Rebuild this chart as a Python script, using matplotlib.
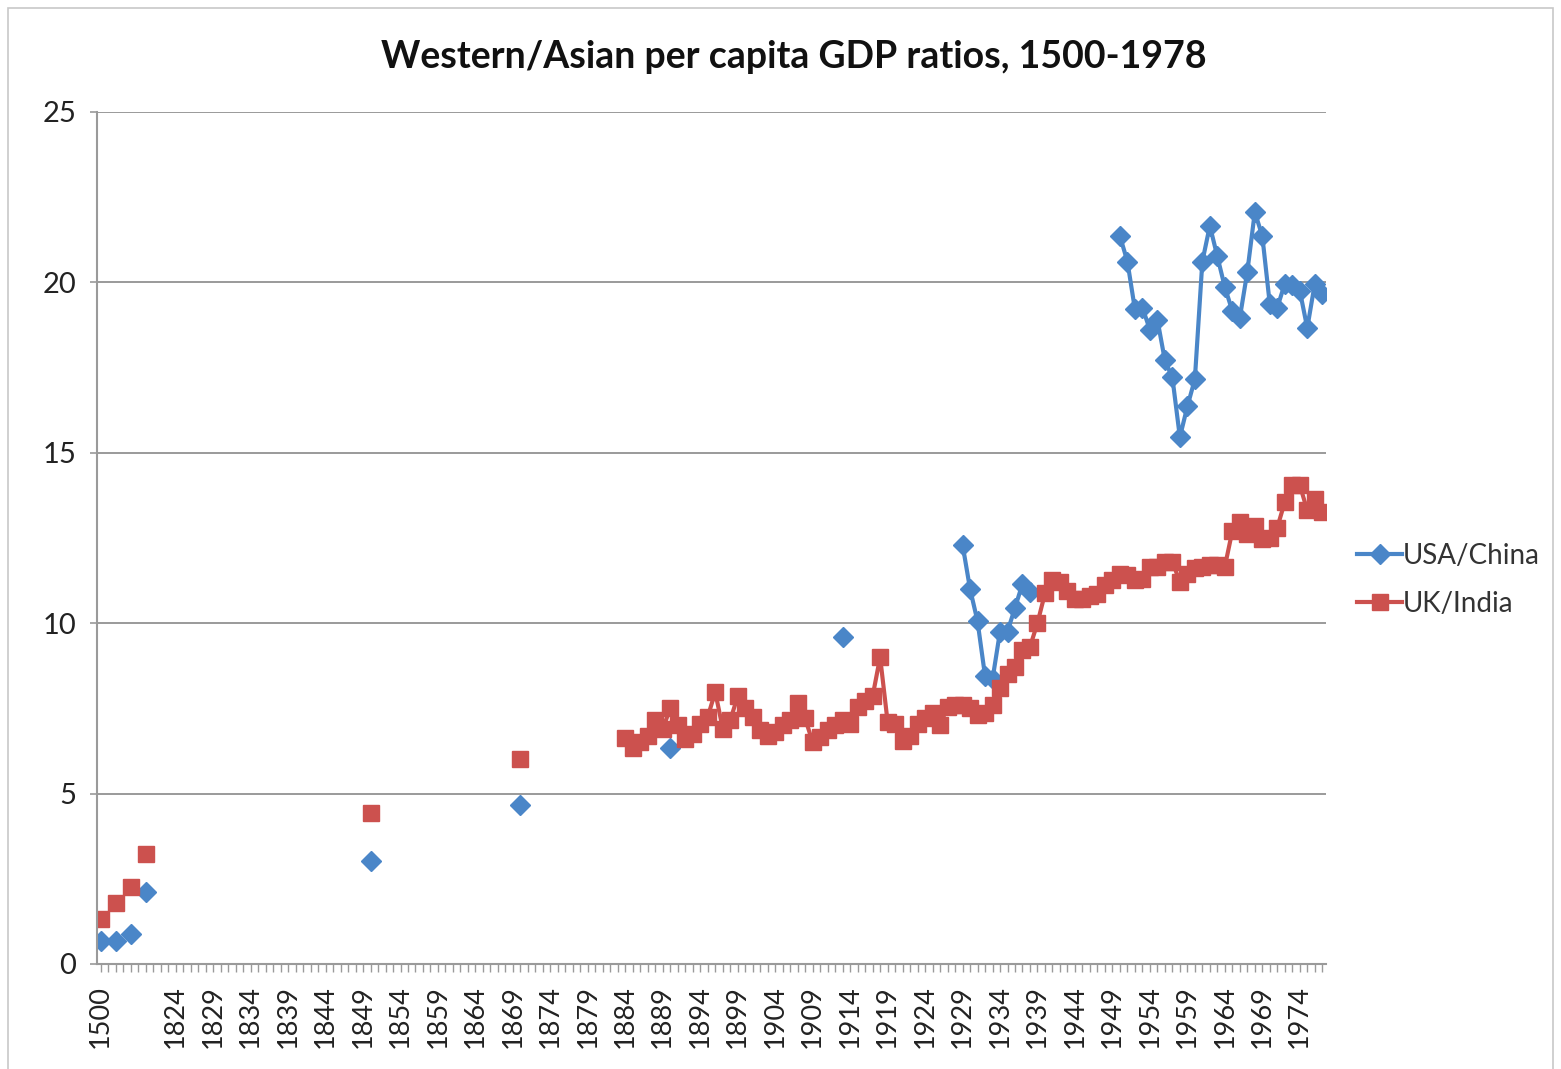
import numpy as np
import matplotlib
matplotlib.use('Agg')
from matplotlib import pyplot as plt
from matplotlib.patches import Rectangle

plt.rcParams['font.family'] = ['Lato', 'DejaVu Sans']

# category axis as in the spreadsheet (blank rows between the early benchmark years)
categories = ['1500', '', '1600', '', '1700', ''] + [str(y) for y in range(1820, 1978)]

# sparse early benchmarks
early_years = ['1500', '1600', '1700', '1820', '1850', '1870']
uk_india_early = [1.32, 1.78, 2.27, 3.22, 4.43, 6.02]
usa_china_early_years = ['1500', '1600', '1700', '1820', '1850', '1870', '1890', '1913']
usa_china_early = [0.68, 0.66, 0.88, 2.10, 3.02, 4.65, 6.33, 9.60]

# UK/India annual, 1884-1977
uk_india_annual_start = 1884
uk_india_annual = [
    6.62, 6.33, 6.50, 6.70, 7.15, 6.90, 7.50, 7.00, 6.60, 6.75,
    7.05, 7.25, 7.98, 6.90, 7.15, 7.85, 7.50, 7.25, 6.85, 6.70,
    6.80, 7.00, 7.15, 7.65, 7.20, 6.50, 6.65, 6.85, 7.00, 7.15,
    7.05, 7.55, 7.70, 7.85, 9.00, 7.10, 7.05, 6.55, 6.70, 7.05,
    7.20, 7.35, 7.00, 7.55, 7.60, 7.60, 7.50, 7.30, 7.35, 7.60,
    8.10, 8.50, 8.70, 9.20, 9.30, 10.00, 10.87, 11.25, 11.20, 10.95,
    10.70, 10.70, 10.80, 10.85, 11.10, 11.25, 11.45, 11.40, 11.25, 11.30,
    11.65, 11.65, 11.80, 11.80, 11.20, 11.45, 11.60, 11.65, 11.70, 11.70,
    11.65, 12.70, 12.95, 12.60, 12.85, 12.45, 12.50, 12.80, 13.55, 14.05,
    14.05, 13.30, 13.65, 13.25,
]

# USA/China annual runs
usa_china_1929_start = 1929
usa_china_1929 = [12.30, 11.00, 10.05, 8.45, 8.35, 9.75, 9.75, 10.45, 11.15, 10.90]
usa_china_1950_start = 1950
usa_china_1950 = [
    21.35, 20.60, 19.20, 19.25, 18.60, 18.90, 17.70, 17.20, 15.45, 16.35,
    17.15, 20.60, 21.65, 20.75, 19.85, 19.15, 18.95, 20.30, 22.05, 21.35,
    19.35, 19.25, 19.95, 19.90, 19.75, 18.65, 19.95, 19.65,
]


def build_series(points):
    s = np.full(len(categories), np.nan)
    for year, v in points:
        s[categories.index(str(year))] = v
    return s


uk = build_series(list(zip(early_years, uk_india_early)) +
                  [(uk_india_annual_start + i, v) for i, v in enumerate(uk_india_annual)])
us = build_series(list(zip(usa_china_early_years, usa_china_early)) +
                  [(usa_china_1929_start + i, v) for i, v in enumerate(usa_china_1929)] +
                  [(usa_china_1950_start + i, v) for i, v in enumerate(usa_china_1950)])

blue = '#4A86C8'
red = '#CC514E'
grey = '#9A9A9A'

fig = plt.figure(figsize=(15.61, 10.69), dpi=100)
fig.patches.append(Rectangle((0.005, -0.01), 0.99, 1.0025, transform=fig.transFigure,
                             fill=False, edgecolor='#C8C8C8', linewidth=1.2))
ax = fig.add_axes([97 / 1561, 105 / 1069, 1229 / 1561, 852.5 / 1069])

x = np.arange(len(categories))
ax.plot(x, us, color=blue, marker='D', markersize=10, linewidth=3, label='USA/China')
ax.plot(x, uk, color=red, marker='s', markersize=12, linewidth=3, label='UK/India')

ax.set_xlim(-0.5, len(categories) - 0.5)
ax.set_ylim(0, 25)
ax.set_yticks([0, 5, 10, 15, 20, 25])
ax.yaxis.grid(True, color=grey, linewidth=1.4)
ax.set_axisbelow(True)

ax.set_xticks(x)
ax.set_xticklabels([c if i % 5 == 0 else '' for i, c in enumerate(categories)],
                   rotation=90, fontsize=19.5, color='#222222')
ax.tick_params(axis='x', length=6, width=1, color=grey, pad=9)
ax.tick_params(axis='y', length=5, width=1.2, color=grey, labelsize=21,
               labelcolor='#222222', pad=10)

for side in ['top', 'right']:
    ax.spines[side].set_visible(False)
for side in ['left', 'bottom']:
    ax.spines[side].set_color(grey)
    ax.spines[side].set_linewidth(1.5)

fig.text(0.5087, 0.9467, 'Western/Asian per capita GDP ratios, 1500-1978',
         ha='center', va='center', fontsize=27, fontweight='bold', color='#111111')

fig.legend(loc='center left', bbox_to_anchor=(1349 / 1561, 1 - 580 / 1069),
           frameon=False, fontsize=20, handlelength=1.6, handletextpad=0.05,
           borderaxespad=0, borderpad=0.3, labelspacing=0.8, labelcolor='#333333')

fig.savefig('out.png', dpi=100)
